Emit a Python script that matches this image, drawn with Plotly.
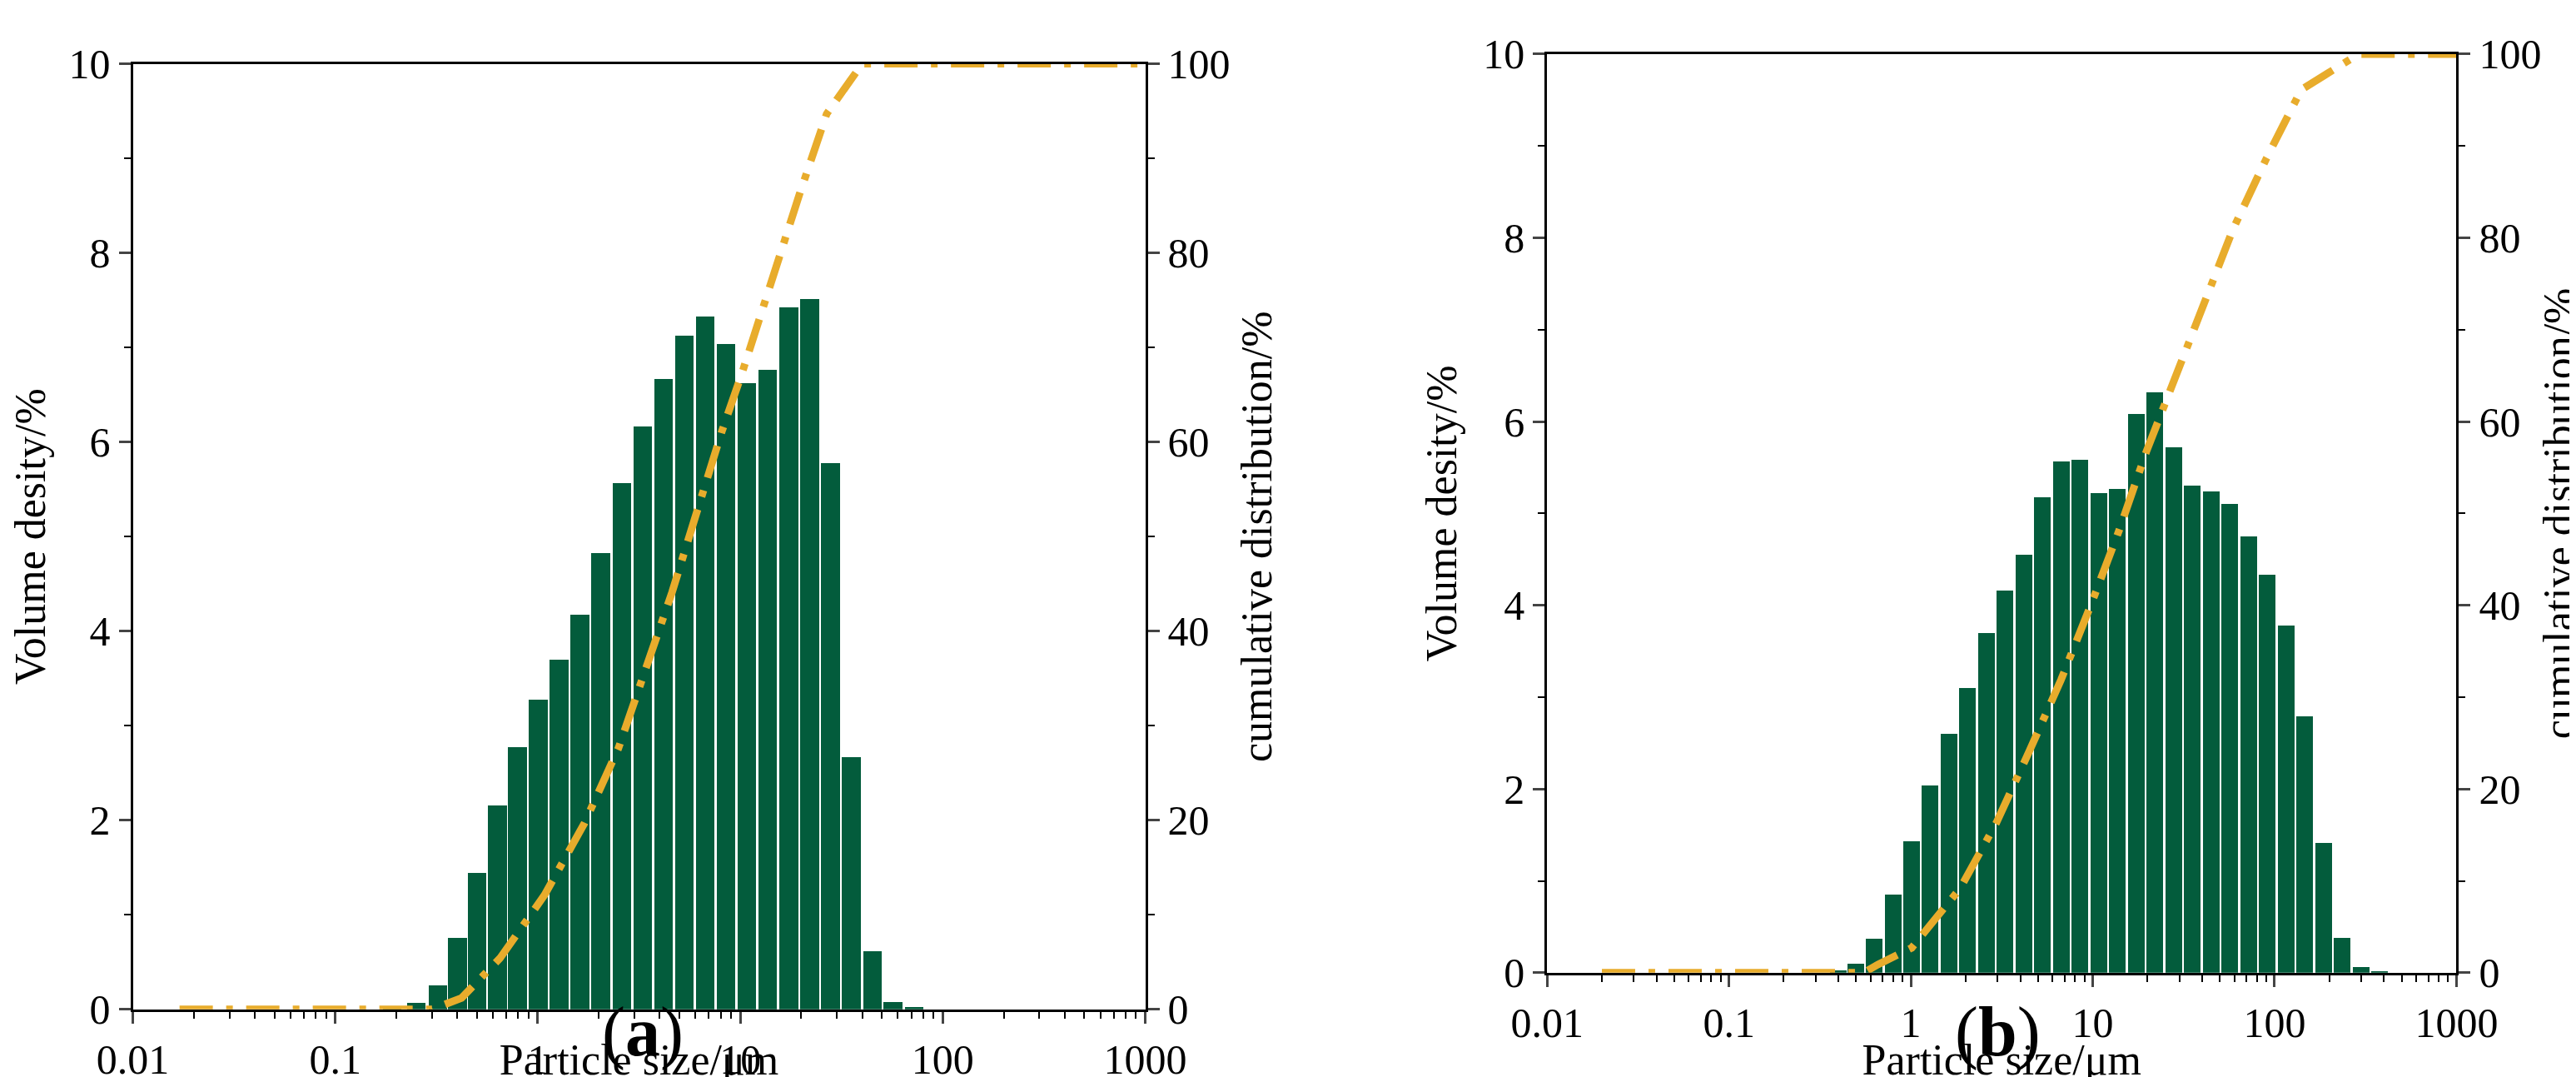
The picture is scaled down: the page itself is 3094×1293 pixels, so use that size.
import numpy as np
import plotly.graph_objects as go

# Panel (a) data
a_bar_size = [0.19, 0.25, 0.32, 0.40, 0.50, 0.63, 0.79, 1.0, 1.27, 1.61, 2.04, 2.59, 3.28, 4.16, 5.27, 6.69, 8.48, 10.76, 13.6, 17.3, 21.9, 27.8, 35.2, 44.7, 56.6, 71.8]
a_bar_val = [0.02, 0.07, 0.26, 0.76, 1.45, 2.16, 2.78, 3.28, 3.70, 4.18, 4.83, 5.57, 6.17, 6.67, 7.13, 7.33, 7.04, 6.63, 6.77, 7.43, 7.52, 5.78, 2.67, 0.62, 0.08, 0.03]
a_cum_size = [0.017, 0.05, 0.1, 0.2, 0.3, 0.42, 0.65, 1.08, 1.7, 2.5, 3.4, 4.6, 6.1, 8.1, 10.2, 14.5, 19.6, 26.7, 40, 100, 1000]
a_cum_val = [0, 0, 0, 0, 0, 1.2, 5.4, 12.1, 19.7, 27.6, 35.8, 44.1, 52.6, 61.1, 67.3, 77.8, 86.2, 94.7, 100, 100, 100]

# Panel (b) data
b_bar_size = [0.40, 0.50, 0.63, 0.80, 1.01, 1.28, 1.63, 2.06, 2.61, 3.31, 4.19, 5.31, 6.73, 8.53, 10.8, 13.7, 17.4, 22.0, 27.9, 35.4, 44.9, 56.9, 72.1, 91.4, 116, 147, 186, 236, 299, 379]
b_bar_val = [0.03, 0.10, 0.37, 0.85, 1.43, 2.04, 2.60, 3.10, 3.70, 4.16, 4.55, 5.18, 5.57, 5.58, 5.22, 5.27, 6.08, 6.32, 5.72, 5.30, 5.24, 5.10, 4.75, 4.33, 3.78, 2.79, 1.41, 0.38, 0.06, 0.02]
b_cum_size = [0.02, 0.05, 0.1, 0.2, 0.4, 0.55, 0.66, 1.01, 1.87, 2.95, 4.5, 6.7, 9.8, 14.0, 19.7, 28.0, 40.7, 59.0, 90.0, 140, 290, 1000]
b_cum_val = [0, 0, 0, 0, 0, 0, 0.9, 2.7, 9.2, 16.3, 24.2, 31.9, 40.1, 48.2, 56.7, 64.6, 73.0, 80.9, 88.6, 96.1, 100, 100]

tick_vals = [0.01, 0.1, 1, 10, 100, 1000]
tick_text = ["0.01", "0.1", "1", "10", "100", "1000"]

BAR = "#035c3c"
LINE = "#e8ac2c"
FONT = "Liberation Serif, Times New Roman, serif"

fig = go.Figure()
lg = lambda v: list(np.log10(v))
DASH = "40px,16px,8px,16px"

fig.add_trace(go.Bar(x=lg(a_bar_size), y=a_bar_val, width=0.092, marker_color=BAR,
                     marker_line_width=0, xaxis="x", yaxis="y"))
fig.add_trace(go.Scatter(x=lg(a_cum_size), y=a_cum_val, mode="lines",
                         line=dict(color=LINE, width=9, dash=DASH), xaxis="x", yaxis="y2"))
fig.add_trace(go.Bar(x=lg(b_bar_size), y=b_bar_val, width=0.092, marker_color=BAR,
                     marker_line_width=0, xaxis="x2", yaxis="y3"))
fig.add_trace(go.Scatter(x=lg(b_cum_size), y=b_cum_val, mode="lines",
                         line=dict(color=LINE, width=9, dash=DASH), xaxis="x2", yaxis="y4"))

minor_vals = [np.log10(k * 10.0 ** e) for e in range(-2, 3) for k in range(2, 10)]
tfont = dict(family=FONT, size=50, color="black")
titlefont = dict(family=FONT, size=52, color="black")

def xax(domain, anchor):
    return dict(domain=domain, anchor=anchor, range=[-2, 3], tickvals=lg(tick_vals), ticktext=tick_text,
                ticks="outside", ticklen=14, tickwidth=3, showline=True, linewidth=3, linecolor="black",
                mirror=True, showgrid=False, zeroline=False, tickfont=tfont, automargin=False,
                minor=dict(tickvals=minor_vals, ticks="outside", ticklen=8, tickwidth=2, tickcolor="black"),
                title=dict(text="Particle size/μm", font=titlefont, standoff=40))

def yax(domain, anchor, rng, dtick, title, side="left", overlay=None):
    d = dict(domain=domain, anchor=anchor, range=rng, dtick=dtick, ticks="outside", ticklen=14, tickwidth=3,
             showline=True, linewidth=3, linecolor="black", showgrid=False, zeroline=False, tickfont=tfont,
             side=side, automargin=False,
             minor=dict(dtick=dtick / 2, ticks="outside", ticklen=8, tickwidth=2, tickcolor="black"),
             title=dict(text=title, font=titlefont, standoff=15))
    if overlay:
        d["overlaying"] = overlay
    return d

fig.update_layout(
    width=3094, height=1293, paper_bgcolor="white", plot_bgcolor="white",
    margin=dict(l=0, r=0, t=0, b=0, autoexpand=False), showlegend=False, bargap=0,
    xaxis=xax([0.049, 0.442], "y"),
    yaxis=yax([0.069, 0.947], "x", [0, 10], 2, "Volume desity/%"),
    yaxis2=yax([0.069, 0.947], "x", [0, 100], 20, "cumulative distribution/%", "right", "y"),
    xaxis2=xax([0.598, 0.951], "y3"),
    yaxis3=yax([0.103, 0.956], "x2", [0, 10], 2, "Volume desity/%"),
    yaxis4=yax([0.103, 0.956], "x2", [0, 100], 20, "cumulative distribution/%", "right", "y3"),
    annotations=[
        dict(text="(<b>a</b>)", x=0.247, y=0.01, xref="paper", yref="paper", showarrow=False,
             xanchor="center", yanchor="bottom", font=dict(family=FONT, size=84, color="black")),
        dict(text="(<b>b</b>)", x=0.773, y=0.01, xref="paper", yref="paper", showarrow=False,
             xanchor="center", yanchor="bottom", font=dict(family=FONT, size=84, color="black")),
    ],
)
fig.write_html("out.html")
